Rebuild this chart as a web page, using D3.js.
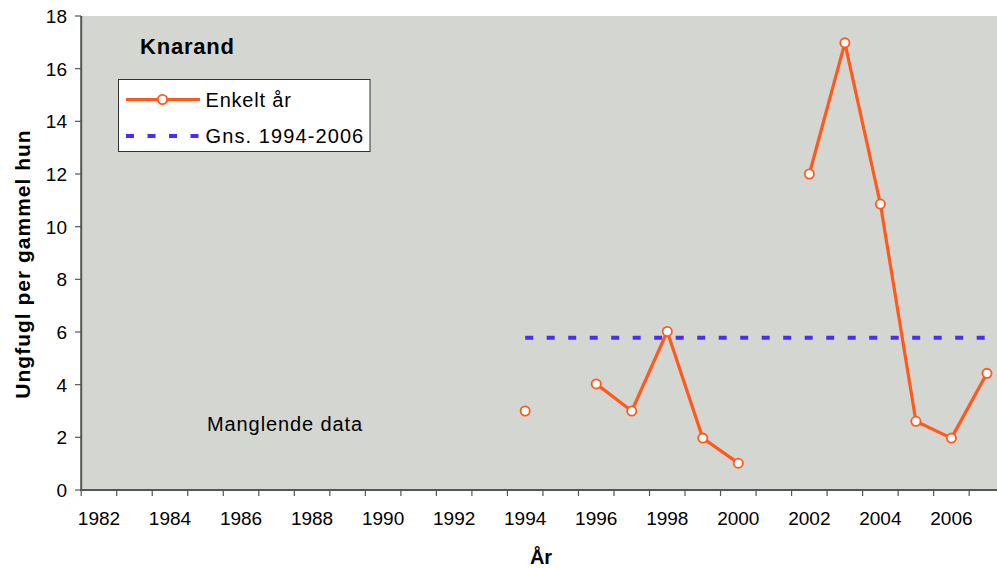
<!DOCTYPE html>
<html><head><meta charset="utf-8">
<script src="https://cdn.jsdelivr.net/npm/d3@7"></script>
<style>
html,body{margin:0;padding:0;background:#fff;overflow:hidden}
text{font-family:"Liberation Sans",Arial,sans-serif;fill:#000}
</style></head>
<body><svg id="c" width="997" height="568"></svg>
<script>
const years = d3.range(1982, 2008);
const tickYears = [1982,1984,1986,1988,1990,1992,1994,1996,1998,2000,2002,2004,2006];
const enkeltAr = [null,null,null,null,null,null,null,null,null,null,null,null,
  3.0, null, 4.03, 3.0, 6.02, 1.97, 1.02, null, 12.0, 16.98, 10.86, 2.61, 1.97, 4.43];
const gnsYears = [1994,1995,1996,1997,1998,1999,2000,2001,2002,2003,2004,2005,2006,2007];
const gnsValue = 5.78;
const yTicks = [0,2,4,6,8,10,12,14,16,18];

const svg = d3.select("#c");
const x = d3.scaleBand().domain(years).range([81.2, 1004.7]).padding(0);
const y = d3.scaleLinear().domain([0,18]).range([490,16]);
const cx = yr => x(yr) + x.bandwidth()/2;

// plot background
svg.append("rect").attr("x",81.2).attr("y",16).attr("width",1004.7-81.2).attr("height",474).attr("fill","#d4d6d1");

const axisColor = "#555";
// y axis
svg.append("line").attr("x1",81.2).attr("x2",81.2).attr("y1",16).attr("y2",490).attr("stroke",axisColor).attr("stroke-width",2);
yTicks.forEach(t=>{
  svg.append("line").attr("x1",75).attr("x2",81).attr("y1",y(t)).attr("y2",y(t)).attr("stroke",axisColor).attr("stroke-width",1.2);
  svg.append("text").attr("x",67).attr("y",y(t)).attr("dy","0.36em").attr("text-anchor","end")
    .style("font-size","19px").text(t);
});
// x axis
svg.append("line").attr("x1",80).attr("x2",1004.7).attr("y1",490).attr("y2",490).attr("stroke",axisColor).attr("stroke-width",2);
years.concat([2008]).forEach((yr,i)=>{
  const xx = 81.2 + i*x.bandwidth();
  svg.append("line").attr("x1",xx).attr("x2",xx).attr("y1",490).attr("y2",496).attr("stroke",axisColor).attr("stroke-width",1.2);
});
tickYears.forEach(yr=>{
  svg.append("text").attr("x",cx(yr)).attr("y",525).attr("text-anchor","middle")
    .style("font-size","19px").text(yr);
});

// mean line
const gnsData = gnsYears.map(yr=>({yr, v:gnsValue}));
svg.append("path").datum(gnsData)
  .attr("d", d3.line().x(d=>cx(d.yr)).y(d=>y(d.v)))
  .attr("fill","none").attr("stroke","#4a2bff").attr("stroke-width",4).attr("stroke-dasharray","8,13.5");

// data line
const data = years.map((yr,i)=>({yr, v:enkeltAr[i]}));
svg.append("path").datum(data)
  .attr("d", d3.line().defined(d=>d.v!==null).x(d=>cx(d.yr)).y(d=>y(d.v)))
  .attr("fill","none").attr("stroke","#ff5a1e").attr("stroke-width",3.2).attr("stroke-linejoin","round");
svg.selectAll("circle.pt").data(data.filter(d=>d.v!==null)).enter().append("circle")
  .attr("class","pt").attr("cx",d=>cx(d.yr)).attr("cy",d=>y(d.v)).attr("r",4.6)
  .attr("fill","#fff").attr("stroke","#ff5a1e").attr("stroke-width",1.8);

// title
svg.append("text").attr("x",140).attr("y",54).style("font-size","22px").style("font-weight","bold")
  .style("letter-spacing","0.8px").text("Knarand");

// legend
svg.append("rect").attr("x",118.5).attr("y",79.5).attr("width",251.5).attr("height",72).attr("fill","#fff").attr("stroke","#333").attr("stroke-width",1);
svg.append("line").attr("x1",126).attr("x2",200).attr("y1",99.5).attr("y2",99.5).attr("stroke","#ff5a1e").attr("stroke-width",3.2);
svg.append("circle").attr("cx",162.5).attr("cy",99.5).attr("r",4.6).attr("fill","#fff").attr("stroke","#ff5a1e").attr("stroke-width",1.8);
svg.append("text").attr("x",205.5).attr("y",106.5).style("font-size","20px").style("letter-spacing","0.8px").text("Enkelt år");
svg.append("line").attr("x1",126).attr("x2",200).attr("y1",136).attr("y2",136).attr("stroke","#4a2bff").attr("stroke-width",4).attr("stroke-dasharray","8,13.5");
svg.append("text").attr("x",205.5).attr("y",143).style("font-size","20px").style("letter-spacing","1.1px").text("Gns. 1994-2006");

// annotation
svg.append("text").attr("x",207).attr("y",431).style("font-size","20px").style("letter-spacing","0.9px").text("Manglende data");

// axis titles
svg.append("text").attr("transform","translate(30,264) rotate(-90)").attr("text-anchor","middle")
  .style("font-size","21px").style("font-weight","bold").style("letter-spacing","1px").text("Ungfugl per gammel hun");
svg.append("text").attr("x",541).attr("y",564).attr("text-anchor","middle")
  .style("font-size","20px").style("font-weight","bold").text("År");
</script></body></html>
